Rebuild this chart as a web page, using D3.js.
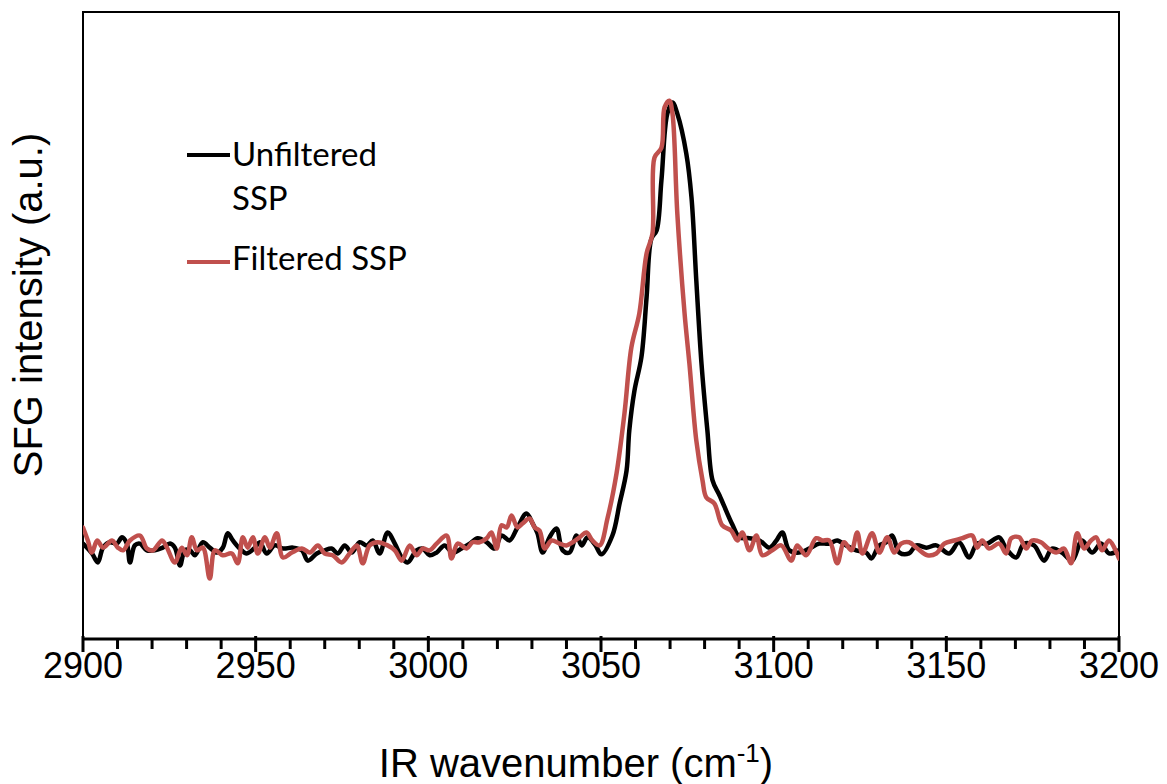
<!DOCTYPE html>
<html>
<head>
<meta charset="utf-8">
<script src="https://cdn.jsdelivr.net/npm/d3@7"></script>
<style>
  body { margin: 0; background: #fff; }
  .tick-label, .axis-title { font-family: "Liberation Sans", Arial, sans-serif; fill: #000; }
  .legend-text { font-family: Lato, "Open Sans", sans-serif; fill: #000; }
</style>
</head>
<body>
<svg id="chart" width="1167" height="784"></svg>
<script>
'use strict';

// wavenumber (cm-1) and SFG intensity (a.u.)
var wnUnfiltered = [2900.0, 2902.6, 2904.3, 2905.8, 2907.8, 2909.8, 2911.3, 2912.7, 2913.6, 2915.0,
  2916.5, 2918.5, 2920.8, 2923.1, 2925.2, 2926.6, 2928.1, 2929.5, 2931.0, 2932.4,
  2934.7, 2936.7, 2938.8, 2940.5, 2941.9, 2943.4, 2945.4, 2947.4, 2949.8, 2951.2,
  2953.2, 2955.5, 2957.9, 2960.8, 2963.4, 2965.1, 2967.7, 2970.0, 2972.0, 2973.8,
  2975.8, 2977.8, 2980.1, 2982.2, 2983.9, 2985.9, 2988.2, 2990.3, 2992.3, 2994.0,
  2996.6, 2998.4, 3000.4, 3002.4, 3004.7, 3007.0, 3009.6, 3012.0, 3014.3, 3016.9,
  3019.2, 3021.2, 3023.5, 3025.8, 3028.4, 3030.2, 3031.6, 3033.1, 3035.1, 3037.1,
  3038.9, 3040.9, 3042.9, 3044.4, 3046.1, 3048.4, 3050.1, 3053.3, 3055.4, 3057.4,
  3058.2, 3059.7, 3061.7, 3063.2, 3064.6, 3066.1, 3067.5, 3069.2, 3070.7, 3072.1,
  3074.7, 3076.2, 3077.6, 3079.1, 3080.8, 3082.3, 3084.3, 3088.0, 3090.1, 3093.0,
  3095.9, 3098.8, 3100.8, 3102.5, 3104.5, 3107.4, 3110.3, 3113.2, 3116.1, 3118.4,
  3121.0, 3123.9, 3126.8, 3128.3, 3130.6, 3132.6, 3134.3, 3136.4, 3139.2, 3141.3,
  3144.2, 3147.1, 3150.8, 3153.7, 3156.6, 3158.9, 3161.8, 3165.3, 3167.3, 3170.2,
  3172.5, 3175.4, 3178.3, 3180.6, 3183.5, 3186.4, 3189.3, 3192.2, 3194.8, 3197.1,
  3200.0];
var intUnfiltered = [1.3, -0.9, -2.9, 0.4, 1.6, 1.3, 2.7, 1.3, -2.9, 0.9,
  1.3, -0.2, -0.2, 0.4, 1.3, 0.4, -3.6, -0.2, -0.2, -1.3,
  1.6, 0.4, -0.7, 0.4, 3.6, 2.0, 0.2, -0.9, 0.4, 1.6,
  -0.9, 0.9, 0.2, 0.4, -0.2, -2.5, -0.9, -0.2, 0.2, -0.9,
  0.9, -0.7, 1.6, 0.9, 2.0, -0.9, 3.8, 1.3, -1.8, -2.9,
  -0.2, 0.2, -1.3, -0.7, 0.9, -0.7, 0.2, 1.3, 2.5, 1.6,
  0.2, 3.1, 2.0, 4.9, 8.0, 5.8, 3.6, -0.7, 2.7, 4.7,
  -0.2, -0.7, 3.1, 0.9, 2.7, 0.9, -1.1, 3.1, 10.3, 17.6,
  26.6, 35.5, 42.9, 56.3, 69.4, 71.2, 82.4, 97.3, 99.8, 97.3,
  88.4, 78.6, 60.0, 41.5, 26.6, 15.4, 12.1, 5.6, 2.7, 2.5,
  2.0, 0.4, 2.0, 3.8, -0.2, -0.7, 0.2, 1.3, 1.3, 2.0,
  0.9, -0.2, -0.7, -2.0, 0.9, 1.6, 3.1, -0.7, -0.9, 0.9,
  0.4, 0.9, -0.9, 1.6, -1.8, 1.3, 1.3, 2.7, 0.2, -1.8,
  1.3, 0.9, -2.5, 0.2, -0.7, -2.5, 2.0, -0.7, 1.3, -0.9,
  -0.2];

var wnFiltered = [2900.0, 2901.4, 2902.6, 2904.1, 2905.8, 2908.4, 2910.1, 2911.6, 2913.6, 2916.5,
  2918.5, 2920.3, 2922.9, 2924.3, 2926.6, 2928.6, 2930.1, 2931.5, 2933.0, 2934.7,
  2936.7, 2938.2, 2940.5, 2943.1, 2944.8, 2946.3, 2947.7, 2949.2, 2950.6, 2952.7,
  2954.1, 2956.1, 2957.9, 2960.5, 2963.4, 2965.7, 2968.0, 2970.0, 2972.3, 2974.9,
  2977.2, 2979.3, 2981.0, 2983.0, 2985.3, 2988.2, 2990.3, 2992.3, 2994.6, 2996.6,
  2998.4, 3000.4, 3002.4, 3005.3, 3006.7, 3008.5, 3011.1, 3012.8, 3014.8, 3016.9,
  3018.3, 3019.8, 3021.2, 3022.7, 3024.1, 3025.8, 3027.3, 3029.3, 3030.8, 3032.2,
  3033.7, 3035.7, 3038.0, 3040.0, 3041.8, 3043.8, 3045.8, 3047.5, 3049.6, 3051.9,
  3054.5, 3056.8, 3058.8, 3061.1, 3063.2, 3064.9, 3065.5, 3067.5, 3068.4, 3069.8,
  3070.7, 3072.1, 3074.2, 3075.6, 3077.6, 3079.4, 3080.5, 3082.8, 3085.1, 3087.7,
  3089.5, 3090.9, 3093.0, 3095.0, 3096.7, 3099.6, 3102.2, 3105.1, 3106.8, 3109.4,
  3112.3, 3114.1, 3116.1, 3118.4, 3120.4, 3122.5, 3124.2, 3125.7, 3128.5, 3130.6,
  3132.9, 3134.9, 3136.9, 3139.2, 3141.6, 3144.5, 3147.1, 3149.4, 3152.3, 3154.6,
  3157.5, 3158.9, 3160.4, 3162.4, 3165.3, 3167.3, 3168.8, 3171.1, 3173.1, 3174.8,
  3177.4, 3179.2, 3181.8, 3184.1, 3186.1, 3187.9, 3189.9, 3191.9, 3193.4, 3195.1,
  3197.1, 3200.0];
var intFiltered = [4.9, 2.0, -0.7, 2.0, 0.4, 2.0, 0.4, -0.2, 2.0, 3.1,
  0.2, -0.2, 2.0, 0.4, -2.9, 0.4, -1.3, 2.7, -0.2, 0.4,
  -6.5, -0.2, -1.3, -0.9, -3.1, 2.7, 0.4, 2.7, -0.9, 2.7,
  0.4, 3.6, -1.8, -0.7, 0.2, -0.7, 0.9, -0.9, -1.3, -2.9,
  -0.9, 0.9, -3.1, 0.9, 1.6, 0.9, -0.2, -2.5, 0.9, -1.3,
  0.2, -0.2, 1.3, 3.1, -2.0, 1.3, 0.2, 1.6, 1.6, 2.5,
  3.8, 0.2, 5.4, 4.9, 7.6, 4.9, 5.8, 6.9, 4.9, 4.2,
  0.2, 2.0, 1.3, 0.9, 1.6, 2.7, 3.8, 2.0, 0.9, 7.0,
  17.0, 30.4, 45.1, 52.7, 66.1, 70.5, 87.5, 89.7, 98.7, 100.2,
  97.3, 75.0, 52.7, 41.5, 24.3, 15.4, 11.6, 10.3, 5.4, 4.2,
  2.0, 3.8, -0.2, 3.1, -1.3, -0.2, 0.9, -2.5, 0.9, -1.3,
  2.5, 2.0, 2.0, -3.1, 1.6, -0.2, 3.8, -0.9, 3.6, -0.7,
  2.7, -0.7, 1.3, 1.6, 0.2, -1.3, -0.9, 1.3, 2.0, 2.5,
  3.1, 0.4, 2.0, 0.2, 1.3, -0.9, 2.5, 2.7, 0.2, 2.0,
  1.6, 0.4, -0.7, 0.2, -3.1, 3.6, 0.2, 2.0, 2.7, -0.2,
  2.0, -2.0];

var xMajorTicks = [2900, 2950, 3000, 3050, 3100, 3150, 3200];
var xMinorTicks = [2910, 2920, 2930, 2940, 2960, 2970, 2980, 2990, 3010, 3020, 3030, 3040,
  3060, 3070, 3080, 3090, 3110, 3120, 3130, 3140, 3160, 3170, 3180, 3190];

var seriesNames = ['Unfiltered SSP', 'Filtered SSP'];
var seriesColors = ['#000000', '#c0504d'];

var margin = {left: 83, top: 12, right: 1119, bottom: 639};

var svg = d3.select('#chart');

var x = d3.scaleLinear().domain([2900, 3200]).range([margin.left, margin.right]);
var y = d3.scaleLinear().domain([-20, 120]).range([margin.bottom, margin.top]);

// plot frame
svg.append('rect')
    .attr('x', margin.left)
    .attr('y', margin.top)
    .attr('width', margin.right - margin.left)
    .attr('height', margin.bottom - margin.top)
    .attr('fill', 'none')
    .attr('stroke', '#000')
    .attr('stroke-width', 2);

svg.append('clipPath').attr('id', 'plotClip')
  .append('rect')
    .attr('x', margin.left)
    .attr('y', margin.top)
    .attr('width', margin.right - margin.left)
    .attr('height', margin.bottom - margin.top);

var line = d3.line()
    .x(function(d) { return x(d[0]); })
    .y(function(d) { return y(d[1]); })
    .curve(d3.curveCatmullRom.alpha(0.5));

var series = [
  d3.zip(wnUnfiltered, intUnfiltered),
  d3.zip(wnFiltered, intFiltered)
];

svg.append('g').attr('clip-path', 'url(#plotClip)')
  .selectAll('path').data(series).enter()
  .append('path')
    .attr('d', line)
    .attr('fill', 'none')
    .attr('stroke', function(d, i) { return seriesColors[i]; })
    .attr('stroke-width', 4.5)
    .attr('stroke-linejoin', 'round')
    .attr('stroke-linecap', 'round');

// bottom axis, Excel style: major ticks cross, minor ticks outside
var axisG = svg.append('g');
axisG.append('line')
    .attr('x1', margin.left - 1).attr('x2', margin.right + 1)
    .attr('y1', margin.bottom).attr('y2', margin.bottom)
    .attr('stroke', '#000').attr('stroke-width', 3);
axisG.selectAll('.major').data(xMajorTicks).enter()
  .append('line')
    .attr('x1', function(d) { return x(d); })
    .attr('x2', function(d) { return x(d); })
    .attr('y1', margin.bottom - 3)
    .attr('y2', margin.bottom + 13)
    .attr('stroke', '#000').attr('stroke-width', 3);
axisG.selectAll('.minor').data(xMinorTicks).enter()
  .append('line')
    .attr('x1', function(d) { return x(d); })
    .attr('x2', function(d) { return x(d); })
    .attr('y1', margin.bottom)
    .attr('y2', margin.bottom + 10)
    .attr('stroke', '#000').attr('stroke-width', 3);
axisG.selectAll('.tick-label').data(xMajorTicks).enter()
  .append('text')
    .attr('class', 'tick-label')
    .attr('x', function(d) { return x(d); })
    .attr('y', 678)
    .attr('text-anchor', 'middle')
    .style('font-size', '36px')
    .text(function(d) { return d; });

// axis titles
var xTitle = svg.append('text')
    .attr('class', 'axis-title')
    .attr('x', 576)
    .attr('y', 777)
    .attr('text-anchor', 'middle')
    .style('font-size', '40px');
xTitle.append('tspan').text('IR wavenumber (cm');
xTitle.append('tspan').attr('dy', -15).style('font-size', '26px').text('-1');
xTitle.append('tspan').attr('dy', 15).text(')');

svg.append('text')
    .attr('class', 'axis-title')
    .attr('transform', 'translate(42,305) rotate(-90)')
    .attr('text-anchor', 'middle')
    .style('font-size', '40px')
    .text('SFG intensity (a.u.)');

// legend
var legend = svg.append('g');
var legendRows = [
  {lineY: 155, lines: ['Unfiltered', 'SSP'], textY: 166},
  {lineY: 262, lines: ['Filtered SSP'], textY: 270}
];
legendRows.forEach(function(row, i) {
  legend.append('line')
      .attr('x1', 187).attr('x2', 230)
      .attr('y1', row.lineY).attr('y2', row.lineY)
      .attr('stroke', seriesColors[i])
      .attr('stroke-width', 4);
  row.lines.forEach(function(t, j) {
    legend.append('text')
        .attr('class', 'legend-text')
        .attr('x', 232)
        .attr('y', row.textY + j * 44)
        .style('font-size', '33px')
        .text(t);
  });
});
</script>
</body>
</html>
